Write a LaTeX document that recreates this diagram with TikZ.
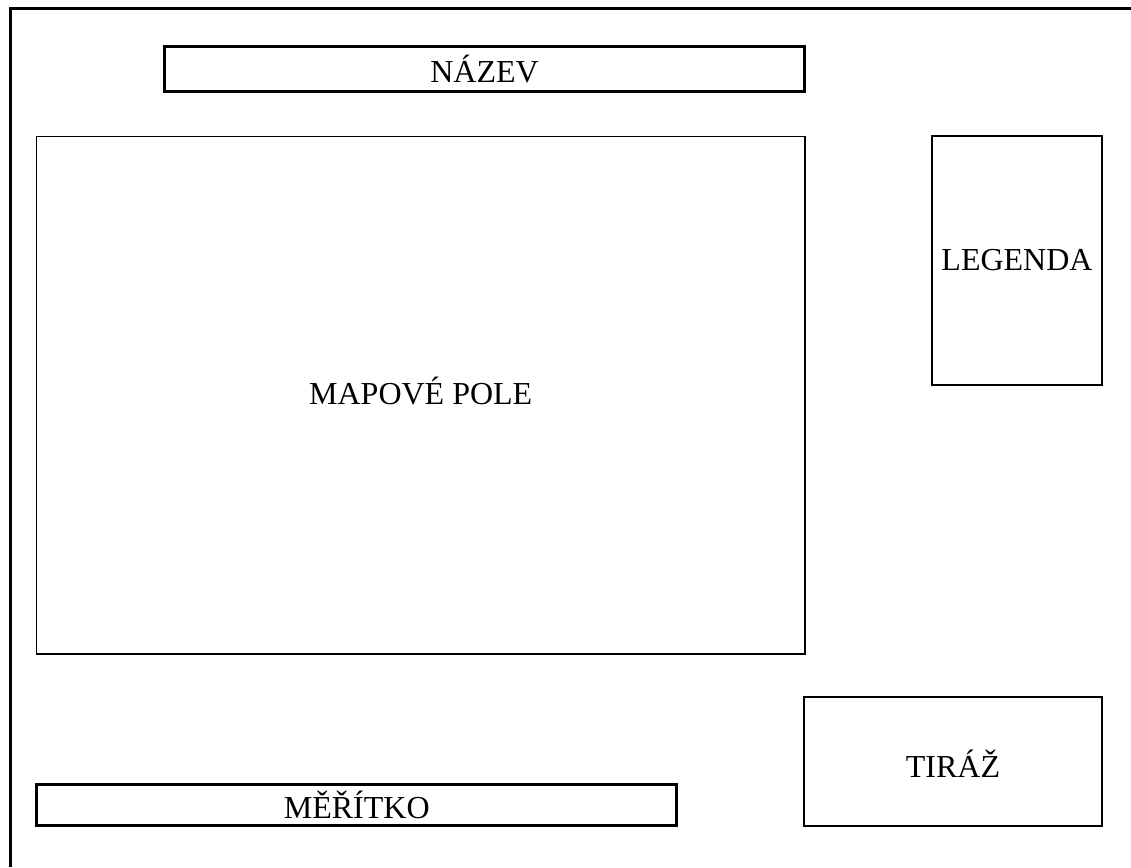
\documentclass[tikz,border=0pt]{standalone}
\usepackage{fontspec}
\setmainfont{Liberation Serif}
\begin{document}
\begin{tikzpicture}[x=1pt,y=-1pt,
  box/.style={draw=black, rectangle, inner sep=0pt, anchor=center, font=\fontsize{32}{32}\selectfont},
  thickbox/.style={box, line width=3pt},
  thinbox/.style={box, line width=1.8pt},
  midbox/.style={box, line width=2.2pt}]
\useasboundingbox (0,0) rectangle (1131,867);
\fill[white] (0,0) rectangle (1131,867);
\draw[line width=3pt] (1131,9) -- (10,9) -- (10,867);
\node[thickbox, minimum width=640pt, minimum height=44pt] (nazev) at (484.5,69) {NÁZEV};
\node[thinbox, minimum width=768.5pt, minimum height=517.5pt] (pole) at (420.75,395.25) {};
\node (poletext) at (420.75,391) {\fontsize{32}{32}\selectfont MAPOVÉ POLE};
\node[thinbox, minimum width=170pt, minimum height=249pt] (legenda) at (1017,260.5) {LEGENDA};
\node[midbox, minimum width=298pt, minimum height=129pt] (tiraz) at (953,761.5) {};
\node (tiraztext) at (953,764) {\fontsize{32}{32}\selectfont TIRÁŽ};
\node[thickbox, minimum width=640pt, minimum height=41pt] (meritko) at (356.75,805) {MĚŘÍTKO};
\end{tikzpicture}
\end{document}
